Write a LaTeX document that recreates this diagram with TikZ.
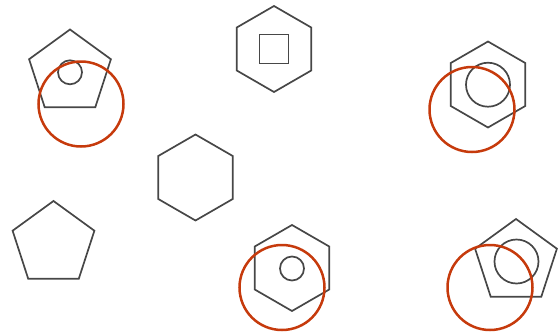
\documentclass[tikz,border=0pt]{standalone}
\usetikzlibrary{shapes.geometric}
\definecolor{edgegray}{HTML}{474747}
\definecolor{hitred}{HTML}{C63A0C}

\begin{document}
\begin{tikzpicture}[x=1pt, y=-1pt,
  pentn/.style={regular polygon, regular polygon sides=5, draw=edgegray, line width=1.7pt, minimum size=86pt, inner sep=0pt, outer sep=0pt},
  hexn/.style={regular polygon, regular polygon sides=6, regular polygon rotate=30, draw=edgegray, line width=1.7pt, minimum size=86pt, inner sep=0pt, outer sep=0pt},
  dotn/.style={circle, draw=edgegray, line width=1.7pt, minimum size=24pt, inner sep=0pt},
  ringn/.style={circle, draw=edgegray, line width=1.7pt, minimum size=44pt, inner sep=0pt},
  boxn/.style={rectangle, draw=edgegray, line width=1.7pt, minimum size=29pt, inner sep=0pt},
  hitn/.style={circle, draw=hitred, line width=2.5pt, minimum size=85pt, inner sep=0pt}
]
  \useasboundingbox (0,0) rectangle (558,333);
  % top row
  \node[pentn] (P1) at (70,72.5)   {};
  \node[dotn]  (D1) at (70,72.3)   {};
  \node[hitn]  (R1) at (81,104)    {};
  \node[hexn]  (H2) at (274,49)    {};
  \node[boxn]  (S2) at (274,49)    {};
  \node[hexn]  (H3) at (488,84.5)  {};
  \node[ringn] (C3) at (488,84.7)  {};
  \node[hitn]  (R3) at (472,109.5) {};
  % middle
  \node[hexn]  (H4) at (195.5,177.5) {};
  % bottom row
  \node[pentn] (P5) at (53.5,244)  {};
  \node[hexn]  (H6) at (292,268)   {};
  \node[dotn]  (D6) at (292,268.5) {};
  \node[hitn]  (R6) at (282,287.5) {};
  \node[pentn] (P7) at (516,262)   {};
  \node[ringn] (C7) at (516.5,261.5) {};
  \node[hitn]  (R7) at (490,287.5) {};
\end{tikzpicture}
\end{document}
